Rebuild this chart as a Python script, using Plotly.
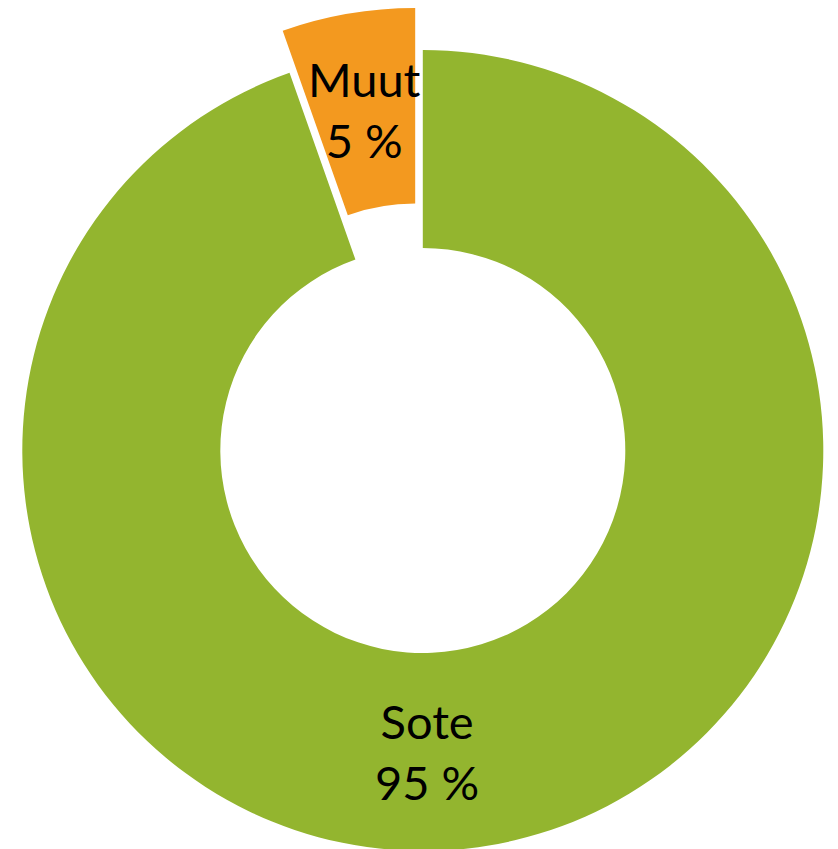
import plotly.graph_objects as go

labels = ["Sote", "Muut"]
values = [94.6, 5.4]
shown_pct = ["95 %", "5 %"]
colors = ["#93B52F", "#F3991F"]

# page body has an 8px margin, so the figure is sized to end at the window edge
W, H = 830, 849

fig = go.Figure()

# main ring (Sote), Muut slot left transparent
fig.add_trace(go.Pie(
    labels=labels, values=values, sort=False, direction="clockwise", rotation=0,
    hole=0.5056, textinfo="none", hoverinfo="label+percent", showlegend=False,
    marker=dict(colors=[colors[0], "rgba(0,0,0,0)"]),
    domain=dict(x=[0.01723, 0.98229], y=[0.00707, 0.95053]),
))

# exploded slice (Muut), same ring shifted out along its bisector
fig.add_trace(go.Pie(
    labels=labels, values=values, sort=False, direction="clockwise", rotation=0,
    hole=0.5087, textinfo="none", hoverinfo="label+percent", showlegend=False,
    marker=dict(colors=["rgba(0,0,0,0)", colors[1]]),
    domain=dict(x=[0.01096, 0.97024], y=[0.06219, 1.0]),
))

label_pos = {"Sote": (0.5048, 0.1237), "Muut": (0.4295, 0.8799)}
for lab, pct in zip(labels, shown_pct):
    x, y = label_pos[lab]
    fig.add_annotation(
        x=x, y=y, xref="paper", yref="paper", xanchor="center", yanchor="middle",
        text=f"{lab}<br>{pct}", showarrow=False,
        font=dict(family="Lato", size=47, color="#000000"),
    )

fig.update_layout(
    width=W, height=H,
    margin=dict(l=0, r=0, t=0, b=0),
    paper_bgcolor="white", plot_bgcolor="white",
)

fig.write_html("out.html")
